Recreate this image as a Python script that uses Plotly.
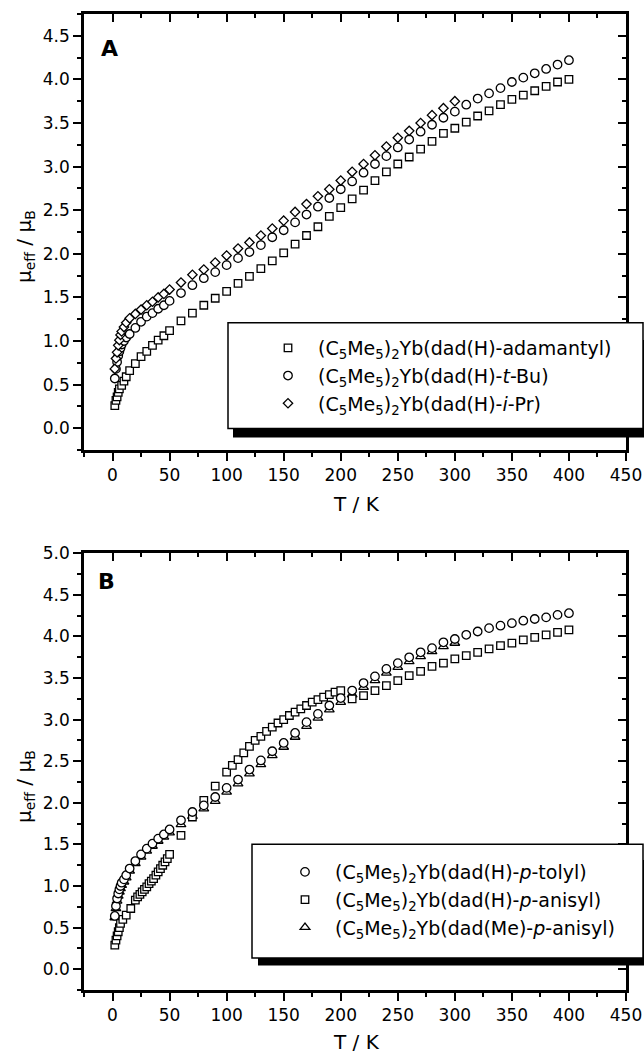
import plotly.graph_objects as go

# ---------------- data ----------------
# Panel A
TA_sq = [2, 3, 4, 5, 6, 8, 10, 12, 15, 20, 25, 30, 35, 40, 45, 50,
         60, 70, 80, 90, 100, 110, 120, 130, 140, 150, 160, 170, 180, 190, 200,
         210, 220, 230, 240, 250, 260, 270, 280, 290, 300, 310, 320, 330, 340,
         350, 360, 370, 380, 390, 400]
MA_sq = [0.26, 0.32, 0.36, 0.41, 0.45, 0.49, 0.54, 0.59, 0.66, 0.74, 0.82, 0.88, 0.95, 1.01, 1.06, 1.12,
         1.23, 1.32, 1.41, 1.49, 1.57, 1.66, 1.74, 1.83, 1.92, 2.01, 2.11, 2.21, 2.31, 2.43, 2.53,
         2.63, 2.73, 2.84, 2.94, 3.03, 3.11, 3.20, 3.29, 3.38, 3.44, 3.51, 3.58, 3.64, 3.71,
         3.77, 3.82, 3.87, 3.92, 3.97, 4.00]

TA_ci = [2, 3, 4, 5, 6, 7, 8, 10, 12, 15, 20, 25, 30, 35, 40, 45, 50,
         60, 70, 80, 90, 100, 110, 120, 130, 140, 150, 160, 170, 180, 190, 200,
         210, 220, 230, 240, 250, 260, 270, 280, 290, 300, 310, 320, 330, 340,
         350, 360, 370, 380, 390, 400]
MA_ci = [0.57, 0.68, 0.76, 0.83, 0.88, 0.92, 0.96, 1.00, 1.04, 1.08, 1.15, 1.22, 1.28, 1.32, 1.37, 1.41, 1.46,
         1.55, 1.64, 1.72, 1.79, 1.87, 1.95, 2.02, 2.10, 2.19, 2.27, 2.36, 2.45, 2.54, 2.64, 2.74,
         2.83, 2.93, 3.03, 3.12, 3.22, 3.31, 3.40, 3.48, 3.56, 3.63, 3.71, 3.78, 3.84, 3.90,
         3.97, 4.02, 4.07, 4.12, 4.17, 4.22]

TA_di = [2, 3, 4, 5, 6, 7, 8, 10, 12, 15, 20, 25, 30, 35, 40, 45, 50,
         60, 70, 80, 90, 100, 110, 120, 130, 140, 150, 160, 170, 180, 190, 200,
         210, 220, 230, 240, 250, 260, 270, 280, 290, 300]
MA_di = [0.68, 0.80, 0.87, 0.95, 1.01, 1.07, 1.11, 1.16, 1.21, 1.26, 1.31, 1.36, 1.41, 1.45, 1.50, 1.54, 1.59,
         1.67, 1.76, 1.82, 1.90, 1.98, 2.06, 2.13, 2.21, 2.29, 2.38, 2.48, 2.57, 2.66, 2.74, 2.84,
         2.94, 3.03, 3.13, 3.23, 3.33, 3.41, 3.50, 3.59, 3.67, 3.75]

# Panel B
TB_ci = [2, 3, 4, 5, 6, 7, 8, 10, 12, 15, 20, 25, 30, 35, 40, 45, 50,
         60, 70, 80, 90, 100, 110, 120, 130, 140, 150, 160, 170, 180, 190, 200,
         210, 220, 230, 240, 250, 260, 270, 280, 290, 300, 310, 320, 330, 340,
         350, 360, 370, 380, 390, 400]
MB_ci = [0.64, 0.76, 0.85, 0.91, 0.96, 1.00, 1.04, 1.08, 1.13, 1.21, 1.30, 1.38, 1.45, 1.51, 1.57, 1.62, 1.68,
         1.79, 1.89, 1.97, 2.07, 2.18, 2.28, 2.40, 2.51, 2.62, 2.72, 2.84, 2.97, 3.07, 3.17, 3.26,
         3.35, 3.44, 3.52, 3.61, 3.68, 3.75, 3.81, 3.86, 3.93, 3.97, 4.02, 4.06, 4.10, 4.13,
         4.16, 4.19, 4.21, 4.23, 4.26, 4.28]

TB_sq = [2, 3, 4, 5, 6, 7, 9, 12, 16,
         20, 22, 24, 26, 28, 30, 32, 34, 36, 38, 40, 42, 44, 46, 48, 50,
         60, 70, 80, 90,
         100, 105, 110, 115, 120, 125, 130, 135, 140, 145, 150, 155, 160, 165, 170, 175, 180,
         185, 190, 195, 200,
         210, 220, 230, 240, 250, 260, 270, 280, 290, 300, 310, 320, 330, 340, 350, 360,
         370, 380, 390, 400]
MB_sq = [0.29, 0.35, 0.40, 0.45, 0.50, 0.55, 0.60, 0.65, 0.73,
         0.83, 0.87, 0.90, 0.93, 0.96, 0.99, 1.03, 1.06, 1.09, 1.13, 1.17, 1.21, 1.25, 1.29, 1.33, 1.38,
         1.61, 1.83, 2.03, 2.20,
         2.37, 2.45, 2.52, 2.60, 2.68, 2.75, 2.80, 2.86, 2.91, 2.96, 3.00, 3.05, 3.09, 3.13, 3.17, 3.21, 3.24,
         3.27, 3.30, 3.33, 3.35,
         3.25, 3.29, 3.35, 3.41, 3.47, 3.53, 3.58, 3.64, 3.68, 3.73, 3.77, 3.81, 3.85, 3.89, 3.92, 3.96,
         3.99, 4.02, 4.05, 4.08]

TB_tr = [2, 3, 4, 5, 6, 7, 8, 10, 12, 15, 20, 25, 30, 35, 40, 45, 50,
         60, 70, 80, 90, 100, 110, 120, 130, 140, 150, 160, 170, 180, 190, 200,
         210, 220, 230, 240, 250, 260, 270, 280, 290, 300]
MB_tr = [0.62, 0.73, 0.82, 0.88, 0.93, 0.97, 1.01, 1.05, 1.10, 1.18, 1.27, 1.35, 1.42, 1.48, 1.54, 1.59, 1.64,
         1.74, 1.84, 1.93, 2.02, 2.13, 2.23, 2.35, 2.46, 2.57, 2.67, 2.79, 2.92, 3.02, 3.12, 3.21,
         3.30, 3.39, 3.47, 3.56, 3.63, 3.70, 3.76, 3.82, 3.88, 3.92]

PRE = "(C<sub>5</sub>Me<sub>5</sub>)<sub>2</sub>Yb"
NAMES_A = [PRE + "(dad(H)-adamantyl)", PRE + "(dad(H)-<i>t</i>-Bu)", PRE + "(dad(H)-<i>i</i>-Pr)"]
NAMES_B = [PRE + "(dad(H)-<i>p</i>-tolyl)", PRE + "(dad(H)-<i>p</i>-anisyl)", PRE + "(dad(Me)-<i>p</i>-anisyl)"]

X_RANGE = [-25, 450]
YA_RANGE = [-0.25, 4.75]
YB_RANGE = [-0.25, 5.0]

# ---------------- layout geometry ----------------
FW, FH = 644, 1053
ML, MR, MT, MB = 84, 18, 14, 63
PW = FW - ML - MR
PH = FH - MT - MB
def px(x):
    return (x - ML) / PW
def py(y):
    return (FH - MB - y) / PH

FONT = "DejaVu Sans"

def mk(symbol, size):
    return dict(symbol=symbol, size=size, color="white", line=dict(color="black", width=1.3))

fig = go.Figure()
# panel A
fig.add_trace(go.Scatter(x=TA_sq, y=MA_sq, mode="markers", marker=mk("square", 7.5), name=NAMES_A[0],
                         xaxis="x", yaxis="y", legend="legend"))
fig.add_trace(go.Scatter(x=TA_ci, y=MA_ci, mode="markers", marker=mk("circle", 8.5), name=NAMES_A[1],
                         xaxis="x", yaxis="y", legend="legend"))
fig.add_trace(go.Scatter(x=TA_di, y=MA_di, mode="markers", marker=mk("diamond", 7.2), name=NAMES_A[2],
                         xaxis="x", yaxis="y", legend="legend"))
# panel B (triangles first so circles sit on top)
fig.add_trace(go.Scatter(x=TB_tr, y=MB_tr, mode="markers", marker=mk("triangle-up", 8.5), name=NAMES_B[2],
                         xaxis="x2", yaxis="y2", legend="legend2"))
fig.add_trace(go.Scatter(x=TB_sq, y=MB_sq, mode="markers", marker=mk("square", 7.5), name=NAMES_B[1],
                         xaxis="x2", yaxis="y2", legend="legend2"))
fig.add_trace(go.Scatter(x=TB_ci, y=MB_ci, mode="markers", marker=mk("circle", 8.5), name=NAMES_B[0],
                         xaxis="x2", yaxis="y2", legend="legend2"))
# dummy traces for the mirrored (inside-tick) frame axes
fig.add_trace(go.Scatter(x=[None], y=[None], mode="markers", xaxis="x3", yaxis="y3",
                         showlegend=False, hoverinfo="skip"))
fig.add_trace(go.Scatter(x=[None], y=[None], mode="markers", xaxis="x4", yaxis="y4",
                         showlegend=False, hoverinfo="skip"))

def xax(inside=False, **kw):
    d = dict(range=X_RANGE, tick0=0, dtick=50, ticks="inside" if inside else "outside",
             ticklen=8, tickwidth=2, tickcolor="black", showline=True, linewidth=2.5,
             linecolor="black", showgrid=False, zeroline=False,
             tickfont=dict(size=17, family=FONT, color="black"),
             showticklabels=not inside,
             minor=dict(tick0=0, dtick=25, ticks="inside" if inside else "outside",
                        ticklen=4, tickwidth=2, tickcolor="black", showgrid=False))
    d.update(kw)
    return d

def yax(rng, inside=False, **kw):
    d = dict(range=rng, tick0=0, dtick=0.5, tickformat=".1f", ticks="inside" if inside else "outside",
             ticklen=8, tickwidth=2, tickcolor="black", showline=True, linewidth=2.5,
             linecolor="black", showgrid=False, zeroline=False,
             tickfont=dict(size=17, family=FONT, color="black"),
             showticklabels=not inside,
             minor=dict(tick0=0, dtick=0.25, ticks="inside" if inside else "outside",
                        ticklen=4, tickwidth=2, tickcolor="black", showgrid=False))
    d.update(kw)
    return d

dA = [py(450), 1.0]
dB = [0.0, py(553.3)]

shapes = [
    # legend A shadow + box
    dict(type="rect", xref="paper", yref="paper", x0=px(233), x1=px(650), y0=py(340), y1=py(437.5),
         fillcolor="black", line=dict(width=0), layer="above"),
    dict(type="rect", xref="paper", yref="paper", x0=px(228), x1=px(643), y0=py(322.7), y1=py(428.5),
         fillcolor="white", line=dict(color="black", width=1.5), layer="above"),
    # legend B shadow + box
    dict(type="rect", xref="paper", yref="paper", x0=px(258), x1=px(650), y0=py(860), y1=py(965.5),
         fillcolor="black", line=dict(width=0), layer="above"),
    dict(type="rect", xref="paper", yref="paper", x0=px(252), x1=px(643), y0=py(844.3), y1=py(958),
         fillcolor="white", line=dict(color="black", width=1.5), layer="above"),
]

annotations = [
    dict(text="<b>A</b>", x=px(109), y=py(48.5), xref="paper", yref="paper", showarrow=False,
         font=dict(size=22, family=FONT, color="black"), xanchor="center", yanchor="middle"),
    dict(text="<b>B</b>", x=px(106.5), y=py(581), xref="paper", yref="paper", showarrow=False,
         font=dict(size=22, family=FONT, color="black"), xanchor="center", yanchor="middle"),
    dict(text="T / K", x=px(356), y=py(504), xref="paper", yref="paper", showarrow=False,
         font=dict(size=20, family=FONT, color="black"), xanchor="center", yanchor="middle"),
    dict(text="T / K", x=px(356), y=py(1042), xref="paper", yref="paper", showarrow=False,
         font=dict(size=20, family=FONT, color="black"), xanchor="center", yanchor="middle"),
    dict(text="μ<sub>eff</sub> / μ<sub>B</sub>", x=px(25), y=py(247), xref="paper", yref="paper",
         showarrow=False, textangle=-90,
         font=dict(size=20, family=FONT, color="black"), xanchor="center", yanchor="middle"),
    dict(text="μ<sub>eff</sub> / μ<sub>B</sub>", x=px(25), y=py(787), xref="paper", yref="paper",
         showarrow=False, textangle=-90,
         font=dict(size=20, family=FONT, color="black"), xanchor="center", yanchor="middle"),
]

leg_common = dict(xanchor="left", yanchor="top", bgcolor="rgba(0,0,0,0)", borderwidth=0,
                  font=dict(size=19, family=FONT, color="black"), itemwidth=50,
                  tracegroupgap=0)

fig.update_layout(
    width=FW, height=FH,
    margin=dict(l=ML, r=MR, t=MT, b=MB, autoexpand=False),
    paper_bgcolor="white", plot_bgcolor="white",
    font=dict(family=FONT, color="black"),
    xaxis=xax(domain=[0, 1], anchor="y"),
    yaxis=yax(YA_RANGE, domain=dA, anchor="x"),
    xaxis2=xax(domain=[0, 1], anchor="y2"),
    yaxis2=yax(YB_RANGE, domain=dB, anchor="x2"),
    xaxis3=xax(inside=True, overlaying="x", side="top", anchor="y"),
    yaxis3=yax(YA_RANGE, inside=True, overlaying="y", side="right", anchor="x"),
    xaxis4=xax(inside=True, overlaying="x2", side="top", anchor="y2"),
    yaxis4=yax(YB_RANGE, inside=True, overlaying="y2", side="right", anchor="x2"),
    legend=dict(x=px(258), y=py(329), traceorder="normal", **leg_common),
    legend2=dict(x=px(275), y=py(853), traceorder="reversed", **leg_common),
    shapes=shapes,
    annotations=annotations,
    showlegend=True,
)

fig.write_html("out.html")
